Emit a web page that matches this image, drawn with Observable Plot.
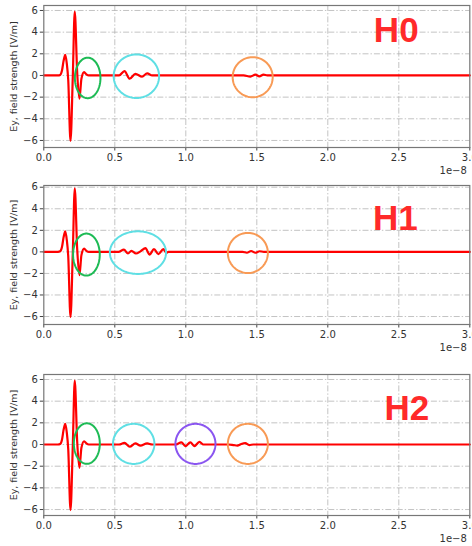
<!DOCTYPE html>
<html><head><meta charset="utf-8">
<script src="https://cdn.jsdelivr.net/npm/d3@7"></script>
<script src="https://cdn.jsdelivr.net/npm/@observablehq/plot@0.6"></script>
<style>body{margin:0;background:#fff;} #c svg{display:block;}</style>
</head><body><div id="c"></div>
<script>
// ---- data (time in units of 1e-8 s, field in V/m) ----
const xTicks = [0, 0.5, 1, 1.5, 2, 2.5, 3];
const yTicks = [-6, -4, -2, 0, 2, 4, 6];
const panelNames = ["H0", "H1", "H2"];
const yLabel = "Ey, field strength [V/m]";
const expLabel = "1e\u22128";

// main pulse, shared by all panels
const pulseT = [0, 0.10, 0.115, 0.128, 0.140, 0.151, 0.162, 0.172, 0.188, 0.204, 0.218, 0.235, 0.251, 0.265, 0.284, 0.300, 0.317, 0.35];
const pulseE = [0, 0, 0.05, 0.45, 1.4, 1.9, 1.1, -0.4, -6.05, -0.2, 5.9, 0.3, -2.15, -0.3, 0.3, 0.1, 0, 0];

// ripples H0
const r0T = [0.50, 0.53, 0.568, 0.605, 0.645, 0.692, 0.728, 0.763, 0.80, 1.38, 1.407, 1.455, 1.49, 1.518, 1.547, 1.574, 1.60, 3.0];
const r0E = [0, 0, 0.4, -0.3, 0.15, -0.1, 0.2, 0, 0, 0, 0, -0.1, 0.08, -0.08, 0.08, 0, 0, 0];
// ripples H1
const r1T = [0.50, 0.526, 0.564, 0.593, 0.617, 0.649, 0.681, 0.716, 0.745, 0.776, 0.807, 0.842, 0.863, 0.878, 0.90, 1.38, 1.40, 1.43, 1.46, 1.49, 1.52, 1.55, 1.58, 3.0];
const r1E = [0, 0, 0.2, -0.15, 0.1, -0.15, 0.05, 0.35, -0.25, 0.25, -0.2, 0.25, -0.1, 0, 0, 0, 0, -0.08, 0.08, -0.08, 0.06, 0, 0, 0];
// ripples H2
const r2T = [0.50, 0.53, 0.568, 0.605, 0.645, 0.680, 0.728, 0.763, 0.80, 0.90, 0.927, 0.969, 0.997, 1.032, 1.060, 1.096, 1.124, 1.15, 1.30, 1.335, 1.363, 1.391, 1.419, 1.447, 1.476, 1.50, 3.0];
const r2E = [0, 0, 0.15, -0.2, 0.1, -0.1, 0.1, 0, 0, 0, 0, 0.2, -0.15, 0.2, -0.15, 0.25, 0, 0, 0, -0.05, -0.1, 0.05, 0.12, -0.05, 0, 0, 0];

// annotation ellipses
const annoPanel = [0, 0, 0, 1, 1, 1, 2, 2, 2, 2];
const annoColor = ["#1dbb55", "#5fdfe4", "#f89a55", "#1dbb55", "#5fdfe4", "#f89a55", "#1dbb55", "#5fdfe4", "#8a55f0", "#f89a55"];
const annoCx = [0.309, 0.652, 1.471, 0.300, 0.663, 1.437, 0.303, 0.633, 1.068, 1.437];
const annoCy = [-0.23, -0.07, -0.16, -0.25, -0.07, -0.10, 0.09, 0.06, 0.06, 0.06];
const annoRx = [0.090, 0.160, 0.141, 0.094, 0.198, 0.141, 0.0915, 0.146, 0.141, 0.141];
const annoRy = [1.87, 2.01, 1.85, 1.95, 1.98, 1.86, 1.87, 1.85, 1.85, 1.85];

// panel label positions
const nameX = [2.482, 2.475, 2.557];
const nameY = [4.10, 3.05, 3.25];

// ---- layout ----
const layout = [
  {height: 180, marginTop: 5, marginBottom: 33, yDomain: [-6.65, 6.46]},
  {height: 185, marginTop: 5, marginBottom: 41, yDomain: [-6.74, 6.16]},
  {height: 181, marginTop: 9, marginBottom: 31, yDomain: [-6.55, 6.46]}
];
const rippleT = [r0T, r1T, r2T];
const rippleE = [r0E, r1E, r2E];

function series(i) {
  const pts = pulseT.map((t, k) => ({t, e: pulseE[k]}))
    .concat(rippleT[i].map((t, k) => ({t, e: rippleE[i][k]})));
  pts.sort((a, b) => a.t - b.t);
  return pts;
}
function ellipses(i) {
  const out = [];
  annoPanel.forEach((p, k) => {
    if (p !== i) return;
    for (let j = 0; j <= 90; j++) {
      const a = 2 * Math.PI * j / 90;
      out.push({id: k, color: annoColor[k], x: annoCx[k] + annoRx[k] * Math.cos(a), y: annoCy[k] + annoRy[k] * Math.sin(a)});
    }
  });
  return out;
}
const fmtY = d => (d < 0 ? "\u2212" + (-d) : String(d));
const fmtX = d3.format(".1f");
const gridStyle = {stroke: "#b4b4b4", strokeOpacity: 1, strokeWidth: 0.8, strokeDasharray: "6,2,1.4,2"};

const container = document.getElementById("c");
layout.forEach((L, i) => {
  const chart = Plot.plot({
    width: 472,
    height: L.height,
    marginLeft: 43.3,
    marginRight: 2.7,
    marginTop: L.marginTop,
    marginBottom: L.marginBottom,
    style: {fontFamily: "DejaVu Sans", fontSize: "10px", color: "#333", background: "#fff"},
    x: {domain: [0, 3]},
    y: {domain: L.yDomain},
    marks: [
      Plot.gridX(xTicks.slice(1, -1), gridStyle),
      Plot.gridY(yTicks, gridStyle),
      Plot.line(series(i), {x: "t", y: "e", stroke: "#ff0000", strokeWidth: 2.2, curve: "monotone-x"}),
      Plot.line(ellipses(i), {x: "x", y: "y", z: "id", stroke: "color", strokeWidth: 2}),
      Plot.text([panelNames[i]], {x: () => nameX[i], y: () => nameY[i], text: d => d, fill: "#ff2a2a", fontSize: 35, fontWeight: "bold", fontFamily: "Liberation Sans", lineAnchor: "middle", textAnchor: "middle"}),
      Plot.axisX(xTicks, {tickFormat: fmtX, tickSize: 3.5, tickPadding: 2.5, label: null, stroke: "#444"}),
      Plot.axisY(yTicks, {tickFormat: fmtY, tickSize: 3.5, tickPadding: 2.5, label: null, stroke: "#444"}),
      Plot.text([yLabel], {frameAnchor: "left", rotate: -90, dx: -30, text: d => d, fontSize: 9.5, fill: "#333", textAnchor: "middle", lineAnchor: "middle"}),
      Plot.text([expLabel], {frameAnchor: "bottom-right", dx: -3, dy: 23, text: d => d, textAnchor: "end", lineAnchor: "middle", fill: "#333"}),
      Plot.frame({stroke: "#777", strokeWidth: 1.2})
    ]
  });
  container.appendChild(chart);
});
</script>
</body></html>
